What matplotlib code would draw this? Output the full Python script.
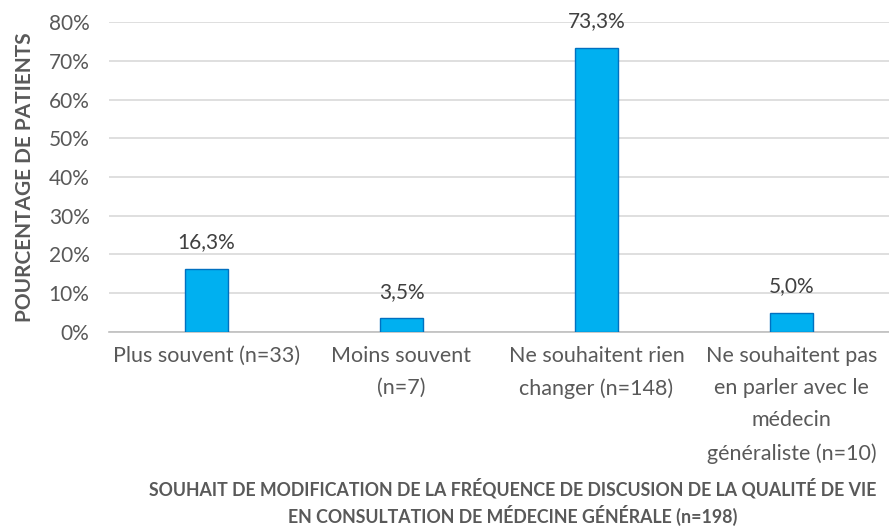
import numpy as np
import matplotlib.pyplot as plt

categories = ['Plus souvent (n=33)', 'Moins souvent\n(n=7)',
              'Ne souhaitent rien\nchanger (n=148)',
              'Ne souhaitent pas\nen parler avec le\nmédecin\ngénéraliste (n=10)']
values = [16.3, 3.5, 73.3, 5.0]
yticks = [0, 10, 20, 30, 40, 50, 60, 70, 80]

plt.rcParams['font.family'] = ['Lato', 'DejaVu Sans']
grey = '#595959'

fig = plt.figure(figsize=(8.89, 5.26), dpi=100)
ax = fig.add_axes([0.1226, 0.369, 0.8774, 0.589])

x = np.arange(len(values))
ax.bar(x, values, width=0.22, color='#00B0F0', edgecolor='#0070C0', linewidth=1, zorder=3)
for xi, v in zip(x, values):
    ax.annotate(f'{v:.1f}%'.replace('.', ','), (xi, v), xytext=(0, 12),
                textcoords='offset points', ha='center', va='bottom',
                fontsize=15, color='#404040')

ax.set_xlim(-0.5, len(values) - 0.5)
ax.set_ylim(0, 80)
ax.set_yticks(yticks)
ax.set_yticklabels([f'{t}%' for t in yticks], fontsize=15, color=grey)
ax.set_xticks(x)
ax.set_xticklabels(categories, fontsize=15.5, color=grey, linespacing=1.77)
ax.tick_params(axis='y', length=0, pad=14)
ax.tick_params(axis='x', length=0, pad=10)
ax.yaxis.grid(True, color='#D9D9D9', linewidth=1.2, zorder=0)
for s in ['top', 'right', 'left']:
    ax.spines[s].set_visible(False)
ax.spines['bottom'].set_color('#BFBFBF')
ax.spines['bottom'].set_linewidth(1.2)

ax.set_ylabel('POURCENTAGE DE PATIENTS', fontsize=15, fontweight='bold', color=grey, labelpad=10)
fig.text(0.577, 0.0, 'SOUHAIT DE MODIFICATION DE LA FRÉQUENCE DE DISCUSION DE LA QUALITÉ DE VIE\nEN CONSULTATION DE MÉDECINE GÉNÉRALE (n=198)',
         ha='center', va='bottom', fontsize=12.8, fontweight='bold', color=grey, linespacing=1.35)

fig.savefig('out.png', dpi=100)
